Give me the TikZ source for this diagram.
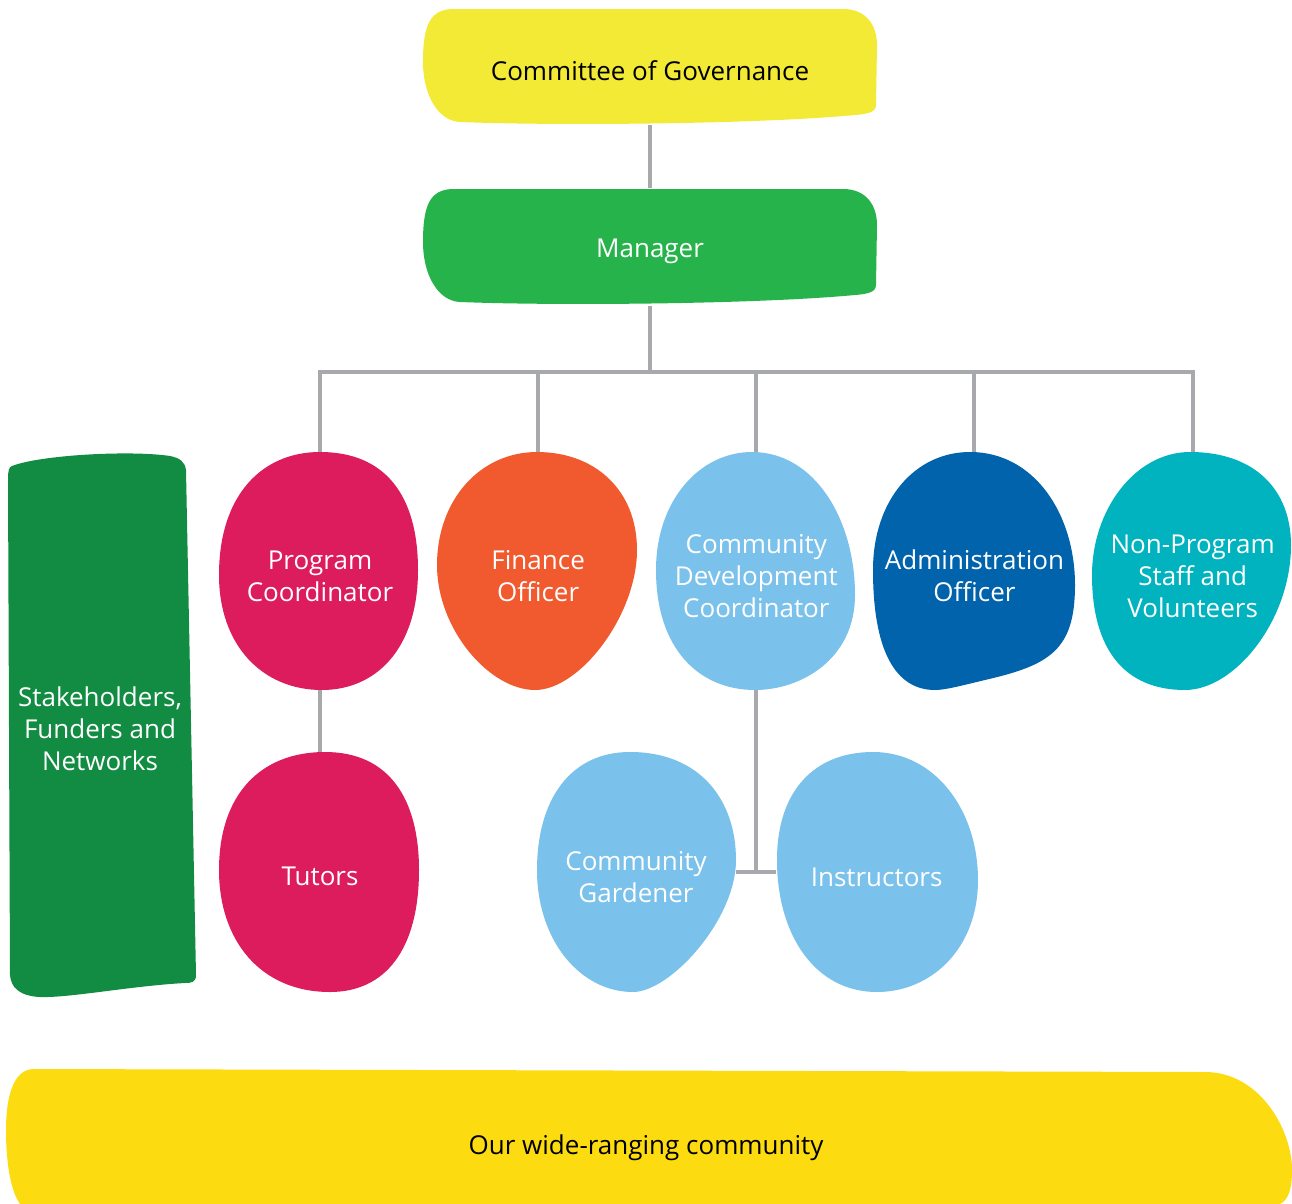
\documentclass[tikz,border=0pt]{standalone}
\usepackage{fontspec}
\setmainfont{Open Sans}
\usetikzlibrary{positioning}
\definecolor{govyellow}{HTML}{F3EA35}
\definecolor{mgrgreen}{HTML}{27B34B}
\definecolor{sfngreen}{HTML}{128C42}
\definecolor{pcred}{HTML}{DC1C5D}
\definecolor{foorange}{HTML}{F15A2E}
\definecolor{cdcblue}{HTML}{7AC1EB}
\definecolor{aoblue}{HTML}{0163AC}
\definecolor{npteal}{HTML}{00B3BF}
\definecolor{comyellow}{HTML}{FCDC11}
\definecolor{linkgray}{HTML}{A7A9AC}
% taller first line, so the text sits a little lower in its shape
\newcommand\lift{\rule{0pt}{16.3pt}}

\begin{document}
\begin{tikzpicture}[x=0.02cm,y=-0.02cm,
		every node/.style={inner sep=0pt,align=center,font=\fontsize{14.8}{18.2}\selectfont},
		bar/.style={minimum width=9.08cm,minimum height=2.34cm},
		role/.style={minimum width=4cm,minimum height=4.76cm,text=white},
		link/.style={draw=linkgray,line width=0.08cm}]
	\useasboundingbox (0,0) rectangle (1292,1204);

	% shapes
	\foreach \dy/\c in {0/govyellow,180/mgrgreen}
		\fill[\c] (452,9+\dy) -- (843,9+\dy) .. controls (866,9+\dy) and (877,25+\dy) .. (877,45+\dy)
			-- (876,105+\dy) .. controls (876,112+\dy) and (868,114+\dy) .. (855,115+\dy)
			.. controls (760,124+\dy) and (560,126+\dy) .. (460,122+\dy)
			.. controls (438,121+\dy) and (423,95+\dy) .. (423,62+\dy)
			.. controls (423,25+\dy) and (430,10+\dy) .. (452,9+\dy) -- cycle;
	\fill[sfngreen] (12,466) .. controls (40,455) and (130,450) .. (170,456)
		.. controls (180,458) and (185,462) .. (186,470) -- (196,975)
		.. controls (196,982) and (192,983) .. (185,983)
		.. controls (130,986) and (70,998) .. (40,997)
		.. controls (20,996) and (11,988) .. (10,975) -- (8,480)
		.. controls (8,470) and (9,467) .. (12,466) -- cycle;
	\fill[pcred] (320,452) .. controls (385,452) and (418,495) .. (418,570)
		.. controls (418,650) and (375,690) .. (322,690) .. controls (262,690) and (219,645) .. (219,575)
		.. controls (219,495) and (262,452) .. (320,452) -- cycle;
	\fill[foorange] (537,452) .. controls (595,452) and (637,490) .. (637,550)
		.. controls (637,615) and (580,690) .. (535,690) .. controls (490,690) and (437,630) .. (437,565)
		.. controls (437,500) and (480,452) .. (537,452) -- cycle;
	\fill[cdcblue] (752,452) .. controls (815,452) and (855,520) .. (855,595)
		.. controls (855,660) and (800,690) .. (755,690) .. controls (700,690) and (656,650) .. (656,570)
		.. controls (656,500) and (700,452) .. (752,452) -- cycle;
	\fill[aoblue] (970,452) .. controls (1035,452) and (1075,515) .. (1075,585)
		.. controls (1075,650) and (1050,665) .. (985,680) .. controls (960,686) and (945,690) .. (935,690)
		.. controls (895,690) and (873,650) .. (873,570) .. controls (873,500) and (915,452) .. (970,452) -- cycle;
	\fill[npteal] (1190,452) .. controls (1255,452) and (1291,490) .. (1291,545)
		.. controls (1291,620) and (1235,690) .. (1185,690) .. controls (1125,690) and (1092,650) .. (1092,575)
		.. controls (1092,510) and (1135,452) .. (1190,452) -- cycle;
	\fill[pcred] (325,752) .. controls (390,752) and (419,800) .. (419,870)
		.. controls (419,950) and (385,992) .. (330,992) .. controls (260,992) and (219,940) .. (219,870)
		.. controls (219,795) and (260,752) .. (325,752) -- cycle;
	\fill[cdcblue] (630,752) .. controls (700,752) and (736,800) .. (736,860)
		.. controls (736,920) and (670,992) .. (633,992) .. controls (580,992) and (537,940) .. (537,870)
		.. controls (537,800) and (570,752) .. (630,752) -- cycle;
	\fill[cdcblue] (873,752) .. controls (935,752) and (978,810) .. (978,880)
		.. controls (978,950) and (930,992) .. (877,992) .. controls (815,992) and (777,935) .. (777,860)
		.. controls (777,790) and (815,752) .. (873,752) -- cycle;
	\fill[comyellow] (33,1069) -- (1205,1072) .. controls (1260,1072) and (1292,1130) .. (1292,1170)
		.. controls (1292,1190) and (1288,1200) .. (1280,1204) -- (20,1204)
		.. controls (10,1190) and (6,1160) .. (6,1130)
		.. controls (6,1100) and (12,1070) .. (33,1069) -- cycle;

	% nodes
	\node [bar] (cog) at (650,66) {\lift Committee of Governance};
	\node [bar,text=white] (mgr) [below=1.26cm of cog] {\lift Manager};
	\node [role] (pc) at (320,571) {\lift Program\\Coordinator};
	\node [role] (fo) [right=0.35cm of pc] {\lift Finance\\Officer};
	\node [role] (cdc) [right=0.35cm of fo] {\lift Community\\Development\\Coordinator};
	\node [role] (ao) [right=0.35cm of cdc] {\lift Administration\\Officer};
	\node [role] (npsv) [right=0.35cm of ao] {\lift Non-Program\\Staff and\\Volunteers};
	\node [role] (tut) [below=1.24cm of pc] {\lift Tutors};
	\node [role] (cg) at (636,872) {\lift Community\\Gardener};
	\node [role] (ins) [right=0.8cm of cg] {\lift Instructors};
	\node [text=white] (sfn) at (100,729) {Stakeholders,\\Funders and\\Networks};
	\node (com) at (646,1148) {Our wide-ranging community};

	% links
	\coordinate (bus) at (650,372);
	\draw [link] (cog) -- (mgr);
	\draw [link] (mgr) -- (bus);
	\foreach \n in {pc,fo,cdc,ao,npsv}
		\draw [link] (\n.north) |- (bus);
	\draw [link] (pc) -- (tut);
	\draw [link] (cdc.south) -- (cdc.south |- cg.east);
	\draw [link] (cg.east) -- (ins.west);
\end{tikzpicture}
\end{document}
